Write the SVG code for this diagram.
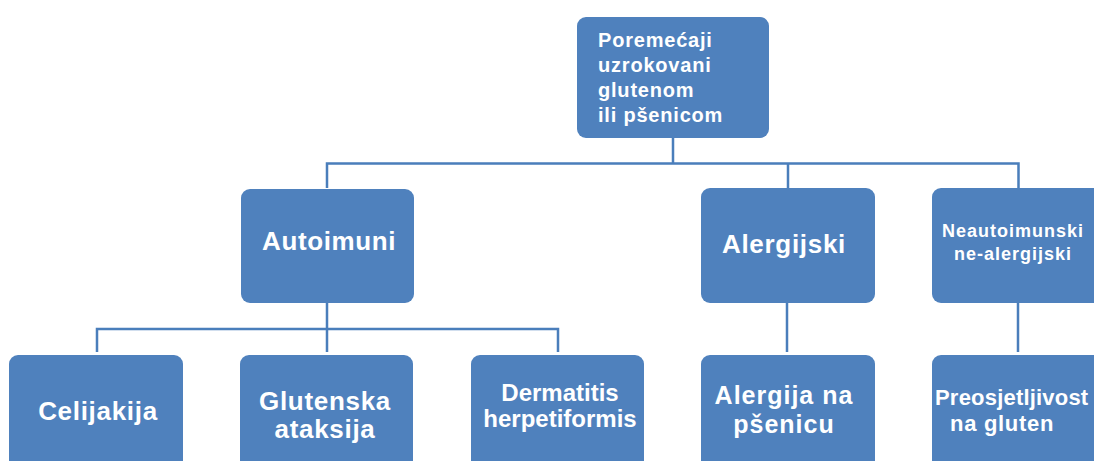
<svg xmlns="http://www.w3.org/2000/svg" width="1094" height="461" viewBox="0 0 1094 461">
<style>
.box{fill:#4f81bd;}
.ln{stroke:#4a7ebb;stroke-width:2.5;fill:none;}
text{font-family:"Liberation Sans",Arial,sans-serif;font-weight:bold;fill:#ffffff;}
.c{text-anchor:middle;}
</style>
<rect width="1094" height="461" fill="#ffffff"/>
<g id="connectors">
<path class="ln" d="M673,138 V163.5 M327,188 V163.5 H1018.5 V188 M788,163.5 V188"/>
<path class="ln" d="M327,303 V352 M97,352 V329 H558 V352"/>
<path class="ln" d="M787,303 V352"/>
<path class="ln" d="M1018,303 V352"/>
</g>
<g id="root">
<rect class="box" x="577" y="17" width="192" height="121" rx="9"/>
<text x="598" y="47" font-size="20" letter-spacing="0.8">Poremećaji</text>
<text x="598" y="72" font-size="20" letter-spacing="0.8">uzrokovani</text>
<text x="598" y="97" font-size="20" letter-spacing="0.8">glutenom</text>
<text x="598" y="122" font-size="20" letter-spacing="0.8">ili pšenicom</text>
</g>
<g id="autoimuni">
<rect class="box" x="241" y="189" width="173" height="114" rx="9"/>
<text class="c" x="329" y="250" font-size="26" letter-spacing="0.6">Autoimuni</text>
</g>
<g id="alergijski">
<rect class="box" x="701" y="188" width="174" height="115" rx="9"/>
<text class="c" x="784" y="253" font-size="26" letter-spacing="0.7">Alergijski</text>
</g>
<g id="neautoimunski">
<rect class="box" x="932" y="188" width="174" height="115" rx="9"/>
<text class="c" x="1013" y="237" font-size="18" letter-spacing="1">Neautoimunski</text>
<text class="c" x="1013" y="260" font-size="18" letter-spacing="1">ne-alergijski</text>
</g>
<g id="celijakija">
<rect class="box" x="9" y="355" width="174" height="120" rx="9"/>
<text class="c" x="98" y="420" font-size="26" letter-spacing="0.7">Celijakija</text>
</g>
<g id="glutenska">
<rect class="box" x="240" y="355" width="173" height="120" rx="9"/>
<text class="c" x="325" y="410" font-size="26" letter-spacing="0.7">Glutenska</text>
<text class="c" x="325" y="438" font-size="26" letter-spacing="0.7">ataksija</text>
</g>
<g id="dermatitis">
<rect class="box" x="471" y="355" width="173" height="120" rx="9"/>
<text class="c" x="560" y="401" font-size="24">Dermatitis</text>
<text class="c" x="560" y="427" font-size="24">herpetiformis</text>
</g>
<g id="alergija">
<rect class="box" x="701" y="355" width="174" height="120" rx="9"/>
<text class="c" x="784" y="404" font-size="25" letter-spacing="1">Alergija na</text>
<text class="c" x="784" y="433" font-size="25" letter-spacing="1">pšenicu</text>
</g>
<g id="preosjetljivost">
<rect class="box" x="932" y="355" width="174" height="120" rx="9"/>
<text x="935" y="405" font-size="22" letter-spacing="0.2">Preosjetljivost</text>
<text x="950" y="431" font-size="22" letter-spacing="0.7">na gluten</text>
</g>
</svg>
